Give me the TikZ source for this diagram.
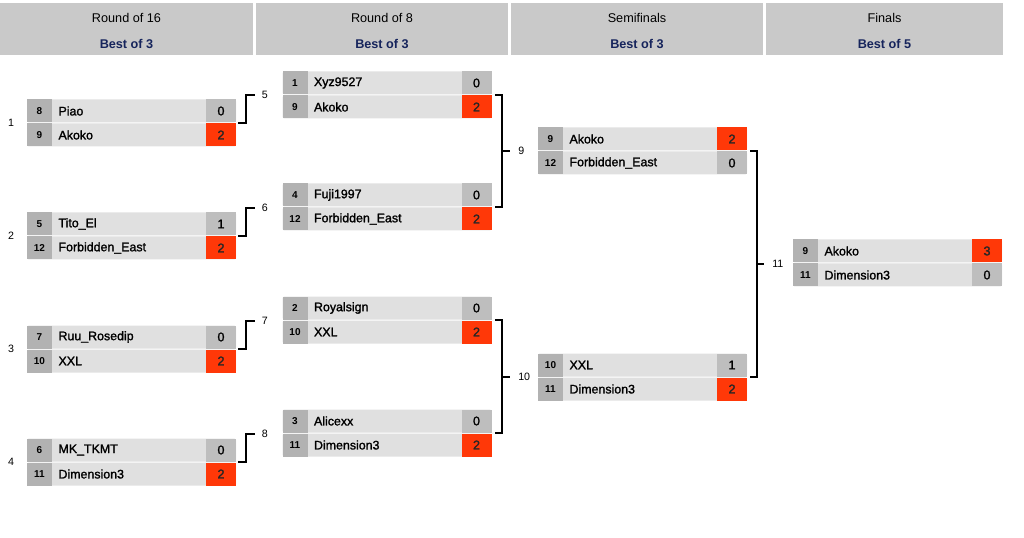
\documentclass[tikz,border=0pt]{standalone}
\usepackage{fontspec}
\setmainfont{Liberation Sans}
\newfontfamily\medfont{Liberation Sans}[FakeBold=1.5]
\usepackage{tikz}
\usetikzlibrary{positioning}

\definecolor{headgray}{RGB}{201,201,201}
\definecolor{seedgray}{RGB}{178,178,178}
\definecolor{namegray}{RGB}{224,224,224}
\definecolor{scoregray}{RGB}{190,190,190}
\definecolor{winred}{RGB}{255,56,8}
\definecolor{navy}{RGB}{22,36,92}

\tikzset{
  headbox/.style={fill=headgray, minimum height=39pt, inner sep=0pt, align=center,
    font=\fontsize{9.5}{11}\selectfont},
  row/.style={fill=namegray, rounded corners=1.5pt, minimum width=156.75pt,
    minimum height=17.25pt, inner sep=0pt},
  seed/.style={fill=seedgray, minimum width=18.75pt, minimum height=17.25pt,
    inner sep=0pt, font=\bfseries\fontsize{7.5}{8}\selectfont},
  pname/.style={inner sep=0pt, inner xsep=4.5pt, font=\medfont\fontsize{9.3}{11}\selectfont},
  lose/.style={fill=scoregray, minimum width=22.5pt, minimum height=17.25pt,
    inner sep=0pt, font=\medfont\fontsize{9.5}{11}\selectfont},
  win/.style={lose, fill=winred, text=black!85},
  mnum/.style={inner sep=0pt, font=\fontsize{8}{9}\selectfont},
  bracket/.style={line width=1.8pt},
}

% one row of a match: name, position, seed, player, score, score style
\newcommand{\player}[6]{%
  \node[row] (#1) at (#2) {};
  \node[seed, right=0pt of #1.west] (#1s) {#3};
  \node[pname, right=0pt of #1s] {#4};
  \node[#6, left=0pt of #1.east] {#5};
}

\begin{document}
\begin{tikzpicture}[x=0.75pt, y=-0.75pt]
  \useasboundingbox (0,0) rectangle (1024,538);

  % headers
  \node[headbox, minimum width=189.75pt] (h1) at (126.5,29)
    {\rule{0pt}{10pt}Round of 16\\[8pt]\textcolor{navy}{\textbf{Best of 3}}};
  \node[headbox, minimum width=189pt] (h2) at (382,29)
    {\rule{0pt}{10pt}Round of 8\\[8pt]\textcolor{navy}{\textbf{Best of 3}}};
  \node[headbox, minimum width=189pt] (h3) at (637,29)
    {\rule{0pt}{10pt}Semifinals\\[8pt]\textcolor{navy}{\textbf{Best of 3}}};
  \node[headbox, minimum width=177.75pt] (h4) at (884.5,29)
    {\rule{0pt}{10pt}Finals\\[8pt]\textcolor{navy}{\textbf{Best of 5}}};

  % round of 16
  \player{p1a}{131.5,111}{8}{Piao}{0}{lose}
  \player{p1b}{131.5,135}{9}{Akoko}{2}{win}
  \player{p2a}{131.5,224}{5}{Tito\_El}{1}{lose}
  \player{p2b}{131.5,248}{12}{Forbidden\_East}{2}{win}
  \player{p3a}{131.5,337}{7}{Ruu\_Rosedip}{0}{lose}
  \player{p3b}{131.5,361}{10}{XXL}{2}{win}
  \player{p4a}{131.5,450}{6}{MK\_TKMT}{0}{lose}
  \player{p4b}{131.5,474}{11}{Dimension3}{2}{win}

  \node[mnum] (l1) at (11,123) {1};
  \node[mnum] (l2) at (11,236) {2};
  \node[mnum] (l3) at (11,349) {3};
  \node[mnum] (l4) at (11,462) {4};

  % round of 8
  \player{p5a}{387,83}{1}{Xyz9527}{0}{lose}
  \player{p5b}{387,107}{9}{Akoko}{2}{win}
  \player{p6a}{387,195}{4}{Fuji1997}{0}{lose}
  \player{p6b}{387,219}{12}{Forbidden\_East}{2}{win}
  \player{p7a}{387,308}{2}{Royalsign}{0}{lose}
  \player{p7b}{387,332}{10}{XXL}{2}{win}
  \player{p8a}{387,421}{3}{Alicexx}{0}{lose}
  \player{p8b}{387,445}{11}{Dimension3}{2}{win}

  \coordinate (c5) at (255,95);
  \coordinate (c6) at (255,208);
  \coordinate (c7) at (255,321);
  \coordinate (c8) at (255,434);
  \node[mnum, right=5pt of c5] (l5) {5};
  \node[mnum, right=5pt of c6] (l6) {6};
  \node[mnum, right=5pt of c7] (l7) {7};
  \node[mnum, right=5pt of c8] (l8) {8};

  \draw[bracket] (p1a.south east) ++(2,0) -- ++(8,0) |- (c5);
  \draw[bracket] (p2a.south east) ++(2,0) -- ++(8,0) |- (c6);
  \draw[bracket] (p3a.south east) ++(2,0) -- ++(8,0) |- (c7);
  \draw[bracket] (p4a.south east) ++(2,0) -- ++(8,0) |- (c8);

  % semifinals
  \player{p9a}{642.5,139}{9}{Akoko}{2}{win}
  \player{p9b}{642.5,163}{12}{Forbidden\_East}{0}{lose}
  \player{p10a}{642.5,365}{10}{XXL}{1}{lose}
  \player{p10b}{642.5,389}{11}{Dimension3}{2}{win}

  \coordinate (b9) at (502,151);
  \coordinate (b10) at (502,377);
  \coordinate (c9) at (510,151);
  \coordinate (c10) at (510,377);
  \node[mnum, right=6pt of c9] (l9) {9};
  \node[mnum, right=6pt of c10] (l10) {10};

  \draw[bracket] (p5a.south east) ++(3,0) -| (b9) |- ([xshift=2.25pt]p6a.south east);
  \draw[bracket] (p7a.south east) ++(3,0) -| (b10) |- ([xshift=2.25pt]p8a.south east);
  \draw[bracket] (b9) -- (c9);
  \draw[bracket] (b10) -- (c10);

  % finals
  \player{p11a}{897.5,251}{9}{Akoko}{3}{win}
  \player{p11b}{897.5,275}{11}{Dimension3}{0}{lose}

  \coordinate (b11) at (757,264);
  \coordinate (c11) at (764,264);
  \node[mnum, right=6pt of c11] (l11) {11};

  \draw[bracket] (p9a.south east) ++(3,0) -| (b11) |- ([xshift=2.25pt]p10a.south east);
  \draw[bracket] (b11) -- (c11);
\end{tikzpicture}
\end{document}
